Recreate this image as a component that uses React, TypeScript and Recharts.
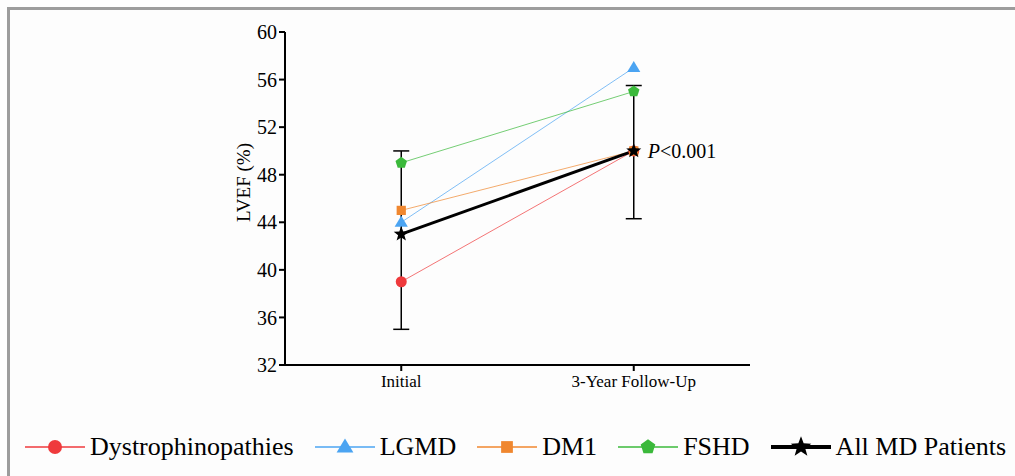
import React from "react";
import {
  LineChart,
  Line,
  XAxis,
  YAxis,
  ErrorBar,
  ReferenceDot,
} from "recharts";

const FONT = '"Liberation Serif", "Times New Roman", serif';

// time points (0 = Initial, 1 = 3-Year Follow-Up)
const timePoints = [0, 1];
const timeLabels = ["Initial", "3-Year Follow-Up"];
const yTicks = [32, 36, 40, 44, 48, 52, 56, 60];

// LVEF (%) per group
const dystrophinopathies = [39, 50];
const lgmd = [44, 57];
const dm1 = [45, 50];
const fshd = [49, 55];
const allMd = [43, 50];
// [lower, upper] error around the all-patients mean
const allMdError: [number, number][] = [
  [8, 7],
  [5.7, 5.5],
];
const pValueText = "<0.001";

type Kind = "circle" | "triangle" | "square" | "pentagon" | "star";

const series: { key: string; name: string; color: string; kind: Kind; values: number[] }[] = [
  { key: "dys", name: "Dystrophinopathies", color: "#ef3a3c", kind: "circle", values: dystrophinopathies },
  { key: "lgmd", name: "LGMD", color: "#4ba4f2", kind: "triangle", values: lgmd },
  { key: "dm1", name: "DM1", color: "#f0872f", kind: "square", values: dm1 },
  { key: "fshd", name: "FSHD", color: "#3bb93b", kind: "pentagon", values: fshd },
  { key: "all", name: "All MD Patients", color: "#000000", kind: "star", values: allMd },
];

const data = timePoints.map((t, i) => {
  const row: Record<string, any> = { t, allErr: allMdError[i] };
  series.forEach((s) => (row[s.key] = s.values[i]));
  return row;
});

function polyPoints(cx: number, cy: number, n: number, outer: number, inner?: number) {
  const pts: string[] = [];
  const count = inner ? n * 2 : n;
  for (let i = 0; i < count; i++) {
    const r = inner && i % 2 === 1 ? inner : outer;
    const a = -Math.PI / 2 + (i * 2 * Math.PI) / count;
    pts.push(`${cx + r * Math.cos(a)},${cy + r * Math.sin(a)}`);
  }
  return pts.join(" ");
}

function Marker({ kind, cx, cy, s, color }: { kind: Kind; cx: number; cy: number; s: number; color: string }) {
  if (kind === "circle") return <circle cx={cx} cy={cy} r={s * 0.5} fill={color} />;
  if (kind === "square")
    return <rect x={cx - s * 0.42} y={cy - s * 0.42} width={s * 0.84} height={s * 0.84} fill={color} />;
  if (kind === "triangle")
    return (
      <polygon
        points={`${cx},${cy - s * 0.6} ${cx - s * 0.6},${cy + s * 0.4} ${cx + s * 0.6},${cy + s * 0.4}`}
        fill={color}
      />
    );
  if (kind === "pentagon") return <polygon points={polyPoints(cx, cy, 5, s * 0.55)} fill={color} />;
  return <polygon points={polyPoints(cx, cy, 5, s * 0.72, s * 0.3)} fill={color} />;
}

function Legend() {
  return (
    <div
      style={{
        position: "absolute",
        left: 25,
        top: 432,
        display: "flex",
        alignItems: "center",
        fontFamily: FONT,
        fontSize: 26,
        color: "#000",
        whiteSpace: "nowrap",
      }}
    >
      {series.map((s) => (
        <div key={s.key} style={{ display: "flex", alignItems: "center", marginRight: 21 }}>
          <svg width={60} height={28} style={{ marginRight: 5 }}>
            <line x1={0} x2={60} y1={14} y2={14} stroke={s.color} strokeWidth={s.kind === "star" ? 4 : 2} strokeOpacity={s.kind === "star" ? 1 : 0.75} />
            <Marker kind={s.kind} cx={30} cy={14} s={s.kind === "star" ? 15 : 14} color={s.color} />
          </svg>
          <span>{s.name}</span>
        </div>
      ))}
    </div>
  );
}

export default function App() {
  return (
    <div
      style={{
        position: "absolute",
        left: 0,
        top: 0,
        width: 1015,
        height: 476,
        background: "#fdfdfd",
        overflow: "hidden",
      }}
    >
      <div
        style={{
          position: "absolute",
          left: 7,
          top: 7,
          width: 1015,
          height: 476,
          borderLeft: "3px solid #9c9c9c",
          borderTop: "3px solid #9c9c9c",
        }}
      />
      <LineChart
        width={1015}
        height={476}
        data={data}
        margin={{ top: 32, right: 265, left: 225, bottom: 81 }}
        style={{ position: "absolute", left: 0, top: 0 }}
      >
        <XAxis
          dataKey="t"
          type="number"
          domain={[-0.5, 1.5]}
          ticks={timePoints}
          tickFormatter={(v) => timeLabels[v]}
          height={30}
          axisLine={{ stroke: "#000", strokeWidth: 2 }}
          tickLine={{ stroke: "#000", strokeWidth: 2 }}
          tickSize={6}
          tickMargin={4}
          tick={{ fill: "#000", fontFamily: FONT, fontSize: 17 }}
        />
        <YAxis
          type="number"
          domain={[32, 60]}
          ticks={yTicks}
          width={60}
          axisLine={{ stroke: "#000", strokeWidth: 2 }}
          tickLine={{ stroke: "#000", strokeWidth: 2 }}
          tickSize={6}
          tickMargin={2}
          tick={{ fill: "#000", fontFamily: FONT, fontSize: 20 }}
          label={{
            content: (props: any) => {
              const vb = props.viewBox;
              const x = vb.x + 18;
              const y = vb.y + vb.height / 2 - 16;
              return (
                <text
                  x={x}
                  y={y}
                  transform={`rotate(-90 ${x} ${y})`}
                  textAnchor="middle"
                  dominantBaseline="central"
                  fontFamily={FONT}
                  fontSize={19}
                  fill="#000"
                >
                  LVEF (%)
                </text>
              );
            },
          }}
        />
        {series.map((s) => {
          const isAll = s.kind === "star";
          return (
            <Line
              key={s.key}
              dataKey={s.key}
              name={s.name}
              stroke={s.color}
              strokeWidth={isAll ? 3 : 1}
              strokeOpacity={isAll ? 1 : 0.7}
              isAnimationActive={false}
              activeDot={false}
              dot={(p: any) => (
                <Marker key={`${s.key}-${p.index}`} kind={s.kind} cx={p.cx} cy={p.cy} s={isAll ? 11 : 11} color={s.color} />
              )}
            >
              {isAll && (
                <ErrorBar dataKey="allErr" direction="y" width={8} stroke="#000" strokeWidth={1.5} />
              )}
            </Line>
          );
        })}
        <ReferenceDot
          x={timePoints[1]}
          y={allMd[1]}
          r={1}
          fill="none"
          stroke="none"
          ifOverflow="visible"
          label={{
            content: (props: any) => {
              const vb = props.viewBox;
              const x = vb.x + vb.width / 2 + 14;
              const y = vb.y + vb.height / 2;
              return (
                <text x={x} y={y} dominantBaseline="central" fontFamily={FONT} fontSize={20} fill="#000">
                  <tspan fontStyle="italic">P</tspan>
                  {pValueText}
                </text>
              );
            },
          }}
        />
      </LineChart>
      <Legend />
    </div>
  );
}
